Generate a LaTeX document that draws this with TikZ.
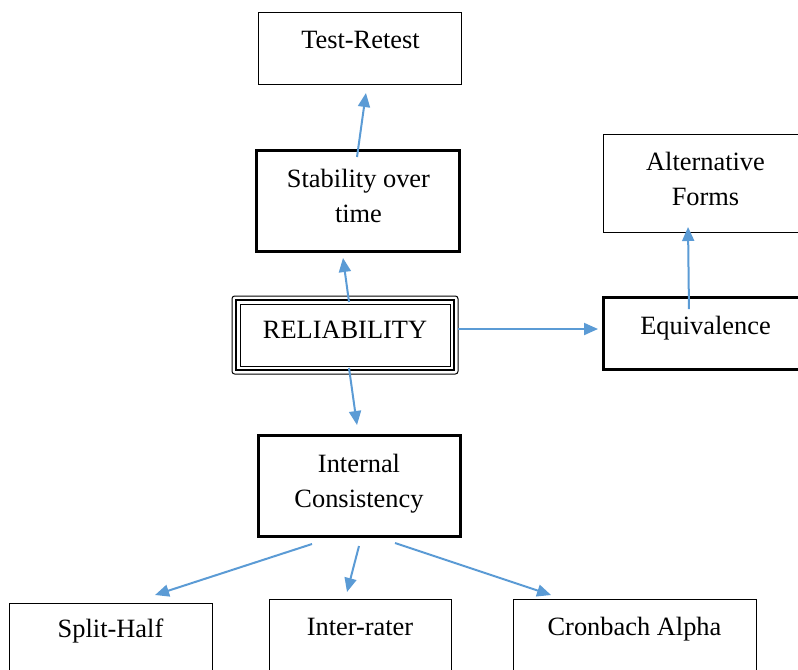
\documentclass[tikz,border=0pt]{standalone}
\usepackage{fontspec}
\setmainfont{Liberation Serif}
\usetikzlibrary{arrows.meta, positioning}
\definecolor{arrowblue}{HTML}{5B9BD5}

\begin{document}
\begin{tikzpicture}[
  x=0.75pt, y=-0.75pt,
  every node/.style={align=center, inner xsep=4pt, inner ysep=0pt, outer sep=0pt,
    font=\fontsize{19.8}{26.25}\selectfont},
  thinbox/.style={draw, line width=0.75pt},
  thickbox/.style={draw, line width=2.25pt},
  arrow/.style={-{Triangle[length=10.5pt, width=9pt]}, draw=arrowblue, line width=1.5pt}
]
\useasboundingbox (0,0) rectangle (798,669);
\clip (0,0) rectangle (798,669);

% Nodes
\node (rel) [thinbox, rounded corners=2pt, minimum width=169.5pt, text height=31.5pt, text depth=27pt] at (345,335) {RELIABILITY};
\node (stab) [thickbox, above=33.75pt of rel, xshift=10.1pt, minimum width=152.25pt, text height=54pt, text depth=21.75pt] {Stability over\\time};
\node (test) [thinbox, above=49.5pt of stab, xshift=1.5pt, minimum width=152.25pt, text height=27pt, text depth=27pt] {Test-Retest};

\node (equiv) [thickbox, right=108.75pt of rel, yshift=1.5pt, minimum width=153.75pt, text height=27.75pt, text depth=26.25pt] {Equivalence};
\node (alt) [thinbox, above=48.75pt of equiv, minimum width=153.75pt, text height=53.25pt, text depth=20.25pt] {Alternative\\Forms};

\node (int) [thickbox, below=45.75pt of rel, xshift=10.5pt, minimum width=151.5pt, text height=54pt, text depth=21.75pt] {Internal\\Consistency};

\node (inter) [thinbox, below=47.25pt of int, xshift=0.75pt, minimum width=136.5pt, text height=27pt, text depth=40.5pt] {Inter-rater};
\node (split) [thinbox, left=42.75pt of inter, yshift=-3pt, minimum width=152.25pt, text height=25.5pt, text depth=42pt] {Split-Half};
\node (cron) [thinbox, right=46.5pt of inter, minimum width=182.25pt, text height=27pt, text depth=40.5pt] {Cronbach Alpha};

% Inner frames of the reliability box
\draw [line width=1.9pt] ([shift={(3pt,3pt)}]rel.south west) rectangle ([shift={(-3pt,-3pt)}]rel.north east);
\draw [line width=0.75pt] ([shift={(6pt,6pt)}]rel.south west) rectangle ([shift={(-6pt,-6pt)}]rel.north east);

% Arrows
\draw [arrow] ([xshift=-1.1pt, yshift=-5.25pt]stab.north) -- ([xshift=4.1pt, yshift=-6.75pt]test.south);
\draw [arrow] ([xshift=3pt, yshift=-4.5pt]rel.north) -- ([xshift=-11.6pt, yshift=-5.25pt]stab.south);
\draw [arrow] ([yshift=4.5pt]rel.east) -- ([xshift=-3.75pt, yshift=3pt]equiv.west);
\draw [arrow] ([xshift=-12.4pt, yshift=-9pt]equiv.north) -- ([xshift=-13.1pt, yshift=3.75pt]alt.south);
\draw [arrow] ([xshift=3pt, yshift=4.5pt]rel.south) -- ([xshift=-1.5pt, yshift=7.5pt]int.north);
\draw [arrow] ([xshift=-35.25pt, yshift=-6pt]int.south) -- ([xshift=33.4pt, yshift=6pt]split.north);
\draw [arrow] ([yshift=-7.5pt]int.south) -- ([xshift=-9.75pt, yshift=5.25pt]inter.north);
\draw [arrow] ([xshift=27pt, yshift=-5.25pt]int.south) -- ([xshift=-62.6pt, yshift=3pt]cron.north);

\end{tikzpicture}
\end{document}
